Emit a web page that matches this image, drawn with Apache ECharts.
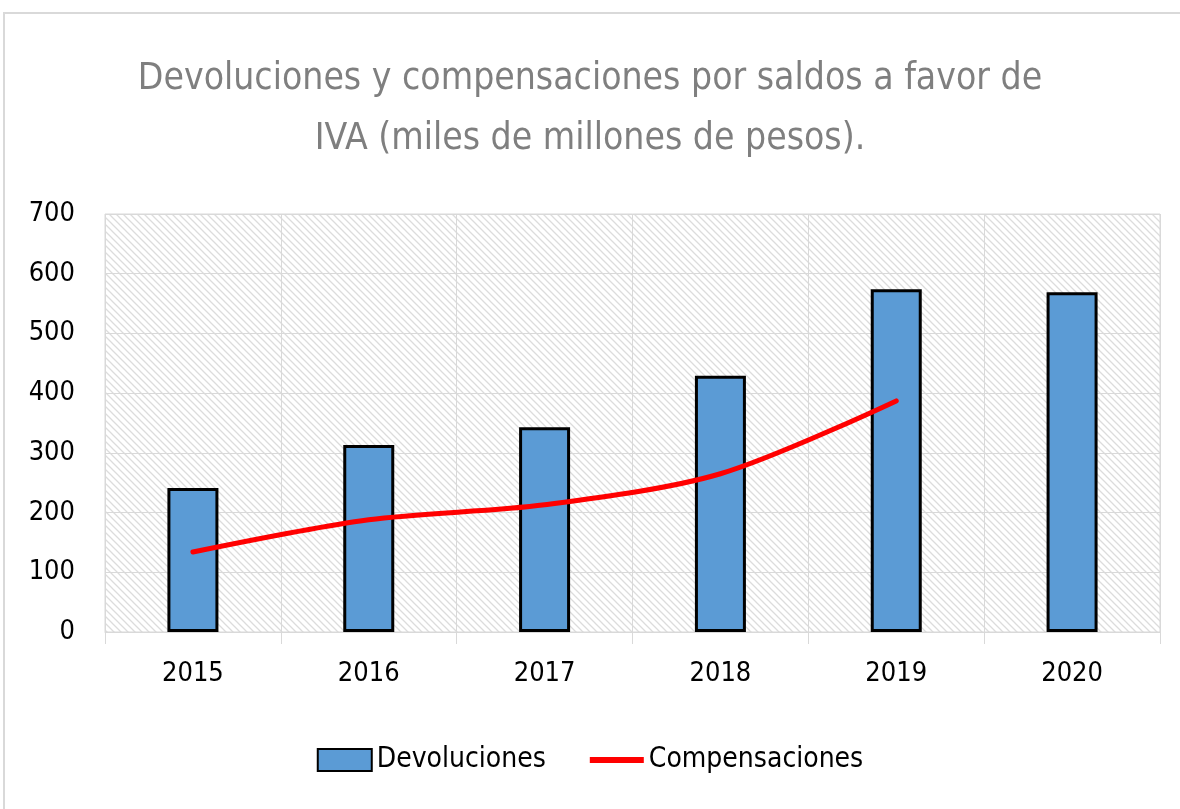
<!DOCTYPE html>
<html>
<head>
<meta charset="utf-8">
<script src="https://cdn.jsdelivr.net/npm/echarts@6/dist/echarts.min.js"></script>
<style>
  html, body { margin: 0; padding: 0; background: #fff; }
  #main { width: 1180px; height: 809px; }
</style>
</head>
<body>
<div id="main"></div>
<script>
const years = ['2015', '2016', '2017', '2018', '2019', '2020']
const devoluciones = [241, 313, 343, 429, 574, 569]
const compensaciones = [134, 188, 213, 265, 387, null]
const yTicks = { min: 0, max: 700, interval: 100 }

// trama diagonal del fondo del area de trazado
function makeHatch() {
  const s = 7
  const c = document.createElement('canvas')
  c.width = s
  c.height = s
  const ctx = c.getContext('2d')
  ctx.fillStyle = '#ffffff'
  ctx.fillRect(0, 0, s, s)
  ctx.strokeStyle = '#dcdcdc'
  ctx.lineWidth = 1.3
  ctx.beginPath()
  ctx.moveTo(-1, -1)
  ctx.lineTo(s + 1, s + 1)
  ctx.moveTo(-s - 1, -1)
  ctx.lineTo(1, s + 1)
  ctx.moveTo(s - 1, -1)
  ctx.lineTo(2 * s + 1, s + 1)
  ctx.stroke()
  return c
}

const font = '"DejaVu Sans Condensed", sans-serif'
const chart = echarts.init(document.getElementById('main'))

const option = {
  animation: false,
  backgroundColor: '#fff',
  graphic: [
    {
      type: 'rect',
      shape: { x: 4, y: 13, width: 1200, height: 900 },
      style: { fill: 'none', stroke: '#d9d9d9', lineWidth: 2 },
      silent: true
    }
  ],
  title: {
    text: 'Devoluciones y compensaciones por saldos a favor de\nIVA (miles de millones de pesos).',
    left: 'center',
    top: 44,
    textStyle: {
      fontFamily: font,
      fontSize: 37,
      fontWeight: 'normal',
      color: '#7f7f7f',
      lineHeight: 60
    }
  },
  grid: {
    left: 105,
    right: 20,
    top: 214,
    bottom: 177,
    show: true,
    borderColor: '#d9d9d9',
    borderWidth: 1,
    backgroundColor: { image: makeHatch(), repeat: 'repeat' }
  },
  legend: {
    bottom: 30,
    left: 'center',
    itemWidth: 54,
    itemHeight: 22,
    itemGap: 44,
    textStyle: { fontFamily: font, fontSize: 28, color: '#000' },
    data: [
      { name: 'Devoluciones', icon: 'rect' },
      {
        name: 'Compensaciones',
        icon: 'path://M0,0 L0,0 M0,8 L54,8 L54,14 L0,14 Z M54,22 L54,22',
        itemStyle: { color: '#ff0000', borderWidth: 0 }
      }
    ]
  },
  xAxis: {
    type: 'category',
    data: years,
    axisLine: { lineStyle: { color: '#d9d9d9', width: 1 } },
    axisTick: { show: true, interval: 0, length: 12, lineStyle: { color: '#d9d9d9' } },
    splitLine: { show: true, interval: 0, lineStyle: { color: '#d9d9d9' } },
    axisLabel: { fontFamily: font, fontSize: 27, color: '#000', margin: 28 }
  },
  yAxis: {
    type: 'value',
    min: yTicks.min,
    max: yTicks.max,
    interval: yTicks.interval,
    axisLine: { show: false },
    axisTick: { show: false },
    splitLine: { lineStyle: { color: '#d9d9d9' } },
    axisLabel: { fontFamily: font, fontSize: 27, color: '#000', margin: 30 }
  },
  series: [
    {
      name: 'Devoluciones',
      type: 'bar',
      data: devoluciones,
      barWidth: 51,
      itemStyle: { color: '#5b9bd5', borderColor: '#000', borderWidth: 3 }
    },
    {
      name: 'Compensaciones',
      type: 'line',
      data: compensaciones,
      smooth: 0.3,
      symbol: 'none',
      lineStyle: { color: '#ff0000', width: 5, cap: 'round' },
      itemStyle: { color: '#ff0000' }
    }
  ]
}

chart.setOption(option)
</script>
</body>
</html>
